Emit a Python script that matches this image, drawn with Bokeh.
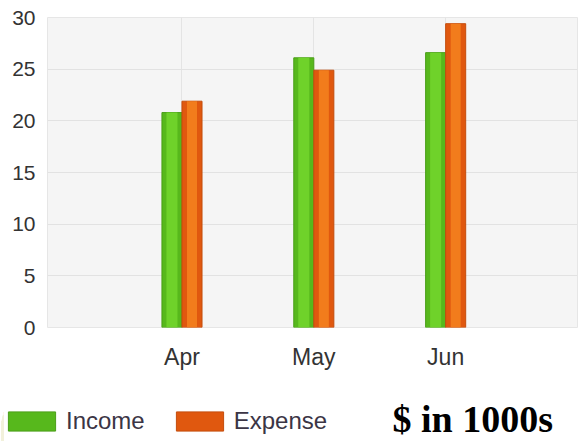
import numpy as np
from bokeh.plotting import figure
from bokeh.layouts import column
from bokeh.models import (ColumnDataSource, Range1d, FixedTicker, Legend, LegendItem, Label)
from bokeh.embed import file_html
from bokeh.resources import INLINE

months = ["Apr", "May", "Jun"]
income = [20.8, 26.1, 26.6]
expense = [21.9, 24.9, 29.4]
y_ticks = [0, 5, 10, 15, 20, 25, 30]
unit_note = "$ in 1000s"

pos = np.arange(1, len(months) + 1)
bw = 0.152
src = ColumnDataSource(dict(x=pos, month=months, income=income, expense=expense,
                            xi=pos - bw / 2, xe=pos + bw / 2))

W = 579
p = figure(width=W, height=380, output_backend="svg", toolbar_location=None,
           x_range=Range1d(-0.02, 4.0), y_range=Range1d(0, 30))
p.min_border_left = 47
p.min_border_right = 2
p.min_border_top = 17
p.min_border_bottom = 53
p.border_fill_color = "white"
p.background_fill_color = "#f5f5f5"
p.outline_line_color = "#e6e6e6"


def draw_bars(fig):
    r_i = fig.vbar(x="xi", top="income", width=bw, source=src,
                   fill_color="#57b81c", line_color="#4a9e18", line_width=1)
    fig.vbar(x="xi", top="income", width=bw * 0.55, source=src,
             fill_color="#6fd22a", line_color=None)
    r_e = fig.vbar(x="xe", top="expense", width=bw, source=src,
                   fill_color="#e0580f", line_color="#c44d0d", line_width=1)
    fig.vbar(x="xe", top="expense", width=bw * 0.5, source=src,
             fill_color="#f27c1c", line_color=None)
    return r_i, r_e


draw_bars(p)

p.xaxis.ticker = FixedTicker(ticks=list(pos))
p.xaxis.major_label_overrides = {int(k): m for k, m in zip(pos, months)}
p.yaxis.ticker = FixedTicker(ticks=y_ticks)
for ax in (p.xaxis[0], p.yaxis[0]):
    ax.axis_line_color = None
    ax.major_tick_line_color = None
    ax.minor_tick_line_color = None
    ax.major_tick_out = 0
    ax.minor_tick_out = 0
    ax.major_label_text_font = "Liberation Sans"
    ax.major_label_text_color = "#333333"
p.xaxis.major_label_text_font_size = "23px"
p.xaxis.major_label_standoff = 16
p.yaxis.major_label_text_font_size = "21px"
p.yaxis.major_label_standoff = 12

p.xgrid.ticker = FixedTicker(ticks=list(pos))
p.xgrid.grid_line_color = "#e4e4e4"
p.ygrid.grid_line_color = "#e2e2e2"

# bottom strip: legend and unit note (bars here are hidden, they only feed the legend)
p2 = figure(width=W, height=61, output_backend="svg", toolbar_location=None,
            x_axis_location=None, y_axis_location=None,
            x_range=Range1d(0, W), y_range=Range1d(0, 61))
p2.min_border_left = 0
p2.min_border_right = 0
p2.min_border_top = 0
p2.min_border_bottom = 0
for fig in (p, p2):
    try:
        fig.frame_align = False
    except AttributeError:
        pass
p2.grid.visible = False
p2.outline_line_color = None
p2.background_fill_color = "white"
p2.border_fill_color = "white"
li, le = draw_bars(p2)
for r in (li, le):
    r.visible = False

legend = Legend(items=[LegendItem(label="Income", renderers=[li]),
                       LegendItem(label="Expense", renderers=[le])],
                location=(2, 6), orientation="horizontal",
                glyph_width=59, glyph_height=24, label_standoff=5, spacing=25,
                padding=0, margin=0, border_line_color=None,
                background_fill_alpha=0, inactive_fill_alpha=0,
                label_text_font="Liberation Sans", label_text_font_size="24px",
                label_text_color="#3b3545")
p2.add_layout(legend, "center")

note = Label(x=392, y=23, x_units="data", y_units="data", text=unit_note,
             text_font="Liberation Serif", text_font_style="bold",
             text_font_size="38px", text_color="#000000", text_baseline="alphabetic")
p2.add_layout(note)

layout = column(p, p2, spacing=0)
open("out.html", "w").write(file_html(layout, INLINE))
